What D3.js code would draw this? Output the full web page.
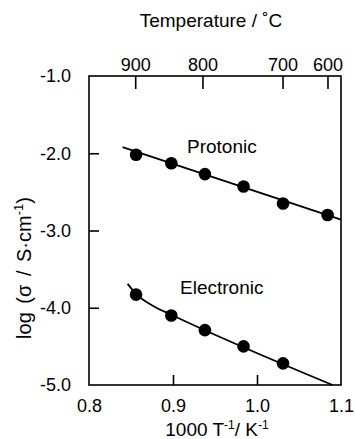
<!DOCTYPE html>
<html>
<head>
<meta charset="utf-8">
<script src="https://cdn.jsdelivr.net/npm/d3@7"></script>
<style>
  html, body { margin: 0; padding: 0; background: #fff; }
  svg text { font-family: "Liberation Sans", Arial, Helvetica, sans-serif; fill: #000; }
</style>
</head>
<body>
<svg id="chart" width="355" height="439"></svg>
<script>
// Inverse temperature (1000/T, K^-1) of each measurement
const invT = [0.856, 0.898, 0.938, 0.984, 1.031, 1.084];
// log conductivity, S/cm
const protonic = [-2.02, -2.13, -2.27, -2.43, -2.65, -2.80];
const electronic = [-3.83, -4.10, -4.29, -4.50, -4.72];

// Fitted trend lines [1000/T, log sigma]
const protonicFit = [[0.840, -1.92], [1.100, -2.86]];
const electronicFit = [[0.846, -3.69], [0.856, -3.82], [0.877, -3.98], [0.898, -4.09], [1.090, -5.00]];

// Axis ticks
const xTicks = [0.8, 0.9, 1.0, 1.1];
const yTicks = [-1, -2, -3, -4, -5];
const tempLabels = [900, 800, 700, 600];
const tempTickPos = [0.8556, 0.9357, 1.031, 1.0845];

const svg = d3.select("#chart");
const L = 89, R = 341, T = 76, B = 385;

const x = d3.scaleLinear().domain([0.8, 1.1]).range([L, R]);
const y = d3.scaleLinear().domain([-5, -1]).range([B, T]);
// one decimal, plain hyphen for negatives
const fmt = d => d.toFixed(1);

// Frame
svg.append("rect")
  .attr("x", L).attr("y", T).attr("width", R - L).attr("height", B - T)
  .attr("fill", "none").attr("stroke", "#000").attr("stroke-width", 1.6);

// Bottom axis: inward ticks
const bottomAxis = svg.append("g").attr("transform", `translate(0,${B})`)
  .call(d3.axisBottom(x).tickValues(xTicks).tickSizeInner(-10).tickSizeOuter(0)
    .tickPadding(14).tickFormat(fmt));
bottomAxis.select(".domain").remove();
bottomAxis.selectAll("line").attr("stroke-width", 1.6);
bottomAxis.selectAll("text").attr("font-size", 18).attr("font-family", null);
bottomAxis.selectAll(".tick").filter(d => d === 0.8 || d === 1.1).select("line").remove();

// Left axis
const leftAxis = svg.append("g").attr("transform", `translate(${L},0)`)
  .call(d3.axisLeft(y).tickValues(yTicks).tickSizeInner(-10).tickSizeOuter(0)
    .tickPadding(18).tickFormat(fmt));
leftAxis.select(".domain").remove();
leftAxis.selectAll("line").attr("stroke-width", 1.6);
leftAxis.selectAll("text").attr("font-size", 18).attr("font-family", null);
leftAxis.selectAll(".tick").filter(d => d === -1 || d === -5).select("line").remove();

// Top axis: temperature in Celsius
const topAxis = svg.append("g").attr("transform", `translate(0,${T})`);
tempLabels.forEach((t, i) => {
  const px = x(tempTickPos[i]);
  topAxis.append("line").attr("x1", px).attr("x2", px).attr("y1", 0).attr("y2", 13)
    .attr("stroke", "#000").attr("stroke-width", 1.6);
  topAxis.append("text").attr("x", px).attr("y", -5)
    .attr("text-anchor", "middle").attr("font-size", 18).text(t);
});

// Axis titles
svg.append("text").attr("x", 211).attr("y", 27).attr("text-anchor", "middle")
  .attr("font-size", 19).text("Temperature / \u02DAC");

const xt = svg.append("text").attr("x", 217).attr("y", 436).attr("text-anchor", "middle")
  .attr("font-size", 19);
xt.append("tspan").text("1000 T");
xt.append("tspan").attr("font-size", 12).attr("dy", -7).text("-1");
xt.append("tspan").attr("dy", 7).text("/ K");
xt.append("tspan").attr("font-size", 12).attr("dy", -7).text("-1");

const yt = svg.append("text").attr("transform", "translate(31,268) rotate(-90)")
  .attr("text-anchor", "middle").attr("font-size", 20).attr("word-spacing", 3);
yt.append("tspan").text("log (\u03C3 / S\u00B7cm");
yt.append("tspan").attr("font-size", 13).attr("dy", -8).text("-1");
yt.append("tspan").attr("dy", 8).text(")");

// Trend lines
const line = d3.line().x(d => x(d[0])).y(d => y(d[1]));
svg.append("path").datum(protonicFit).attr("d", line)
  .attr("fill", "none").attr("stroke", "#000").attr("stroke-width", 1.8);
svg.append("path").datum(electronicFit).attr("d", line.curve(d3.curveMonotoneX))
  .attr("fill", "none").attr("stroke", "#000").attr("stroke-width", 1.8);

// Data points
svg.append("g").selectAll("circle").data(protonic).join("circle")
  .attr("cx", (d, i) => x(invT[i])).attr("cy", d => y(d)).attr("r", 6.3).attr("fill", "#000");
svg.append("g").selectAll("circle").data(electronic).join("circle")
  .attr("cx", (d, i) => x(invT[i])).attr("cy", d => y(d)).attr("r", 6.3).attr("fill", "#000");

// Series labels
svg.append("text").attr("x", 187).attr("y", 153).attr("font-size", 19).text("Protonic");
svg.append("text").attr("x", 180).attr("y", 294).attr("font-size", 19).text("Electronic");
</script>
</body>
</html>
